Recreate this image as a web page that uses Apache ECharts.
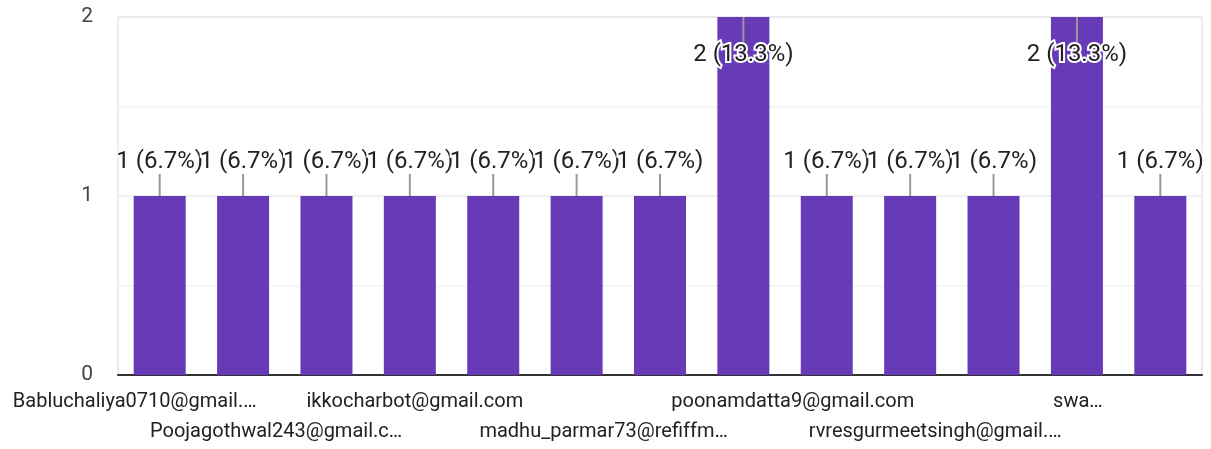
<!DOCTYPE html>
<html>
<head>
<meta charset="utf-8">
<script src="https://cdn.jsdelivr.net/npm/echarts@6/dist/echarts.min.js"></script>
<style>
  html, body { margin: 0; padding: 0; background: #fff; }
  #chart { width: 1211px; height: 449px; }
</style>
</head>
<body>
<div id="chart"></div>
<script>
// categories (only some names are readable in the picture, the rest stay blank)
const categories = [
  'Babluchaliya0710@gmail.…',
  'Poojagothwal243@gmail.c…',
  '',
  'ikkocharbot@gmail.com',
  '',
  'madhu_parmar73@refiffm…',
  '',
  '',
  'poonamdatta9@gmail.com',
  'rvresgurmeetsingh@gmail.…',
  '',
  'swa…',
  ''
]
const counts = [1, 1, 1, 1, 1, 1, 1, 2, 1, 1, 1, 2, 1]
const yTicks = [0, 1, 2]

// label layout: which row and how far each label sits off its tick
const secondRow = [1, 5, 9]
const labelShift = { 0: -25, 1: 33, 3: 5, 5: 27, 8: -34, 9: 25, 11: 1 }

const total = counts.reduce((a, b) => a + b, 0)
const yMax = yTicks[yTicks.length - 1]
const FONT = 'Roboto'

const rich = {}
categories.forEach((c, i) => {
  const s = labelShift[i] || 0
  rich['s' + i] = {
    fontFamily: FONT,
    fontSize: 20,
    color: '#222',
    lineHeight: secondRow.includes(i) ? 82 : 22,
    padding: [0, s < 0 ? -2 * s : 0, 0, s > 0 ? 2 * s : 0]
  }
})

function renderLabel(params, api) {
  const i = api.value(0)
  const v = api.value(1)
  const pt = api.coord([i, v])
  const x = pt[0], top = pt[1]
  const text = v + ' (' + (v / total * 100).toFixed(1) + '%)'
  const atTop = v >= yMax
  const y1 = atTop ? top : top - 22
  const y2 = atTop ? top + 25 : top
  const ty = atTop ? top + 38 : top - 34
  return {
    type: 'group',
    children: [
      { type: 'line', shape: { x1: x, y1: y1, x2: x, y2: y2 }, style: { stroke: '#999', lineWidth: 2 } },
      {
        type: 'text',
        style: {
          text: text, x: x, y: ty, align: 'center', verticalAlign: 'middle',
          font: '24px ' + FONT, fill: '#222', stroke: '#fff', lineWidth: 4
        }
      }
    ]
  }
}

const chart = echarts.init(document.getElementById('chart'))
chart.setOption({
  animation: false,
  grid: {
    left: 118, right: 9, top: 17, bottom: 74,
    show: true, borderColor: '#e8e8e8', borderWidth: 1.5
  },
  xAxis: {
    type: 'category',
    data: categories,
    axisTick: { show: false },
    axisLine: { lineStyle: { color: '#333', width: 2 } },
    axisLabel: {
      interval: 0,
      hideOverlap: false,
      margin: 16,
      formatter: (val, i) => val ? '{s' + i + '|' + val + '}' : '',
      rich: rich
    }
  },
  yAxis: {
    type: 'value',
    min: 0, max: yMax, interval: 0.5,
    axisLine: { show: false },
    axisTick: { show: false },
    axisLabel: {
      margin: 25,
      fontFamily: FONT, fontSize: 21, color: '#444',
      formatter: v => yTicks.includes(v) ? String(v) : ''
    },
    splitLine: { lineStyle: { color: ['#e8e8e8', '#f3f3f3'], width: 1.5 } }
  },
  series: [
    {
      type: 'bar',
      data: counts,
      barWidth: 52,
      itemStyle: { color: '#673ab7' },
      silent: true
    },
    {
      type: 'custom',
      data: counts.map((v, i) => [i, v]),
      renderItem: renderLabel,
      z: 10,
      silent: true
    }
  ]
})
</script>
</body>
</html>
